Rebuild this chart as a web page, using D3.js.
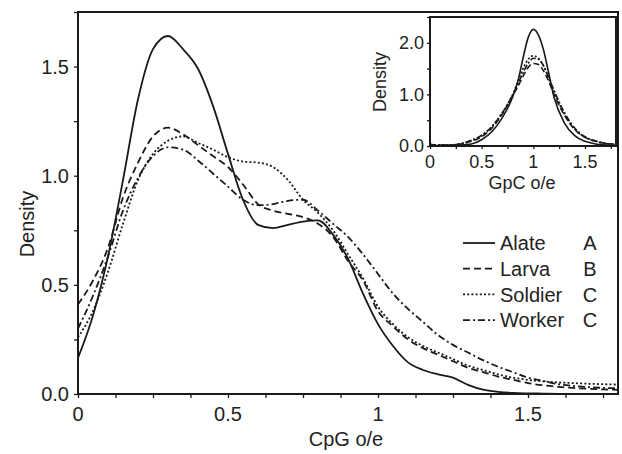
<!DOCTYPE html>
<html><head><meta charset="utf-8">
<script src="https://cdn.jsdelivr.net/npm/d3@7"></script>
<style>body{margin:0;background:#fff}svg{display:block}text{font-family:"Liberation Sans",Arial,sans-serif;fill:#222}</style>
</head><body><svg id="c" width="622" height="454"></svg>
<script>
const series = ["Alate", "Larva", "Soldier", "Worker"];
const groups = ["A", "B", "C", "C"];
const cpg = [0,0.05,0.1,0.15,0.2,0.25,0.3,0.35,0.4,0.45,0.5,0.55,0.6,0.65,0.7,0.75,0.8,0.85,0.9,0.95,1.0,1.05,1.1,1.15,1.2,1.25,1.3,1.35,1.4,1.45,1.5,1.55,1.6,1.65,1.7,1.75,1.8];
const alateCpG = [0.165,0.36,0.63,0.98,1.35,1.58,1.64,1.58,1.49,1.32,1.10,0.89,0.775,0.76,0.775,0.79,0.795,0.73,0.62,0.46,0.32,0.22,0.145,0.11,0.09,0.075,0.042,0.02,0.01,0.005,0.003,0.002,0.001,0.001,0,0,0];
const larvaCpG = [0.41,0.52,0.67,0.90,1.06,1.18,1.22,1.19,1.14,1.09,1.04,0.96,0.87,0.84,0.825,0.81,0.78,0.72,0.61,0.52,0.38,0.31,0.25,0.21,0.18,0.15,0.12,0.10,0.08,0.065,0.05,0.04,0.033,0.028,0.024,0.021,0.019];
const soldierCpG = [0.26,0.38,0.56,0.78,0.98,1.10,1.16,1.18,1.15,1.12,1.085,1.065,1.06,1.04,0.98,0.89,0.83,0.75,0.64,0.53,0.40,0.32,0.26,0.22,0.19,0.16,0.13,0.11,0.09,0.075,0.065,0.058,0.053,0.05,0.047,0.045,0.043];
const workerCpG = [0.30,0.45,0.63,0.84,0.99,1.09,1.13,1.12,1.07,1.01,0.95,0.89,0.865,0.87,0.885,0.89,0.84,0.78,0.72,0.64,0.55,0.46,0.39,0.33,0.27,0.225,0.19,0.155,0.125,0.10,0.075,0.06,0.045,0.037,0.032,0.028,0.026];
const gpc = [0,0.1,0.2,0.3,0.4,0.5,0.6,0.7,0.8,0.85,0.9,0.95,1.0,1.05,1.1,1.15,1.2,1.3,1.4,1.5,1.6,1.7,1.8];
const alateGpC = [0.02,0.01,0.01,0.02,0.04,0.12,0.28,0.55,0.95,1.25,1.7,2.1,2.26,2.15,1.85,1.4,0.95,0.45,0.2,0.09,0.04,0.02,0.01];
const larvaGpC = [0.03,0.02,0.02,0.04,0.09,0.18,0.35,0.62,0.98,1.15,1.35,1.52,1.6,1.58,1.45,1.25,1.0,0.6,0.32,0.17,0.09,0.05,0.03];
const soldierGpC = [0.03,0.02,0.02,0.04,0.10,0.20,0.38,0.65,1.0,1.25,1.5,1.68,1.75,1.7,1.55,1.3,1.05,0.62,0.33,0.17,0.09,0.05,0.03];
const workerGpC = [0.03,0.02,0.02,0.05,0.11,0.21,0.38,0.64,0.98,1.2,1.42,1.6,1.7,1.68,1.55,1.32,1.08,0.65,0.35,0.18,0.1,0.05,0.03];
const mainXTicks = [0, 0.5, 1, 1.5];
const mainXTickLabels = ["0", "0.5", "1", "1.5"];
const mainYTicks = [0, 0.5, 1.0, 1.5];
const mainYTickLabels = ["0.0", "0.5", "1.0", "1.5"];
const insetXTicks = [0, 0.5, 1, 1.5];
const insetXTickLabels = ["0", "0.5", "1", "1.5"];
const insetYTicks = [0, 1, 2];
const insetYTickLabels = ["0.0", "1.0", "2.0"];

const cpgValues = [alateCpG, larvaCpG, soldierCpG, workerCpG];
const gpcValues = [alateGpC, larvaGpC, soldierGpC, workerGpC];
const dashes = [null, "7,4", "2,2.2", "7,3,2,3"];
const dashesInset = [null, "6,3", "2,2", "6,2,2,2"];
const col = "#1a1a1a";

const svg = d3.select("#c");

function panel(g, x, y, xs, vals, dashArr, opt) {
  // ticks
  const xAxis = d3.axisBottom(x).tickValues(opt.xMinor).tickSize(opt.tick).tickFormat("");
  const yAxis = d3.axisLeft(y).tickValues(opt.yMinor).tickSize(opt.tick).tickFormat("");
  const gx = g.append("g").attr("transform", `translate(0,${y.range()[0]})`).call(xAxis);
  const gy = g.append("g").attr("transform", `translate(${x.range()[0]},0)`).call(yAxis);
  [gx, gy].forEach(a => { a.select(".domain").remove(); a.selectAll("line").attr("stroke", col).attr("stroke-width", 1.3); });
  // labels
  g.selectAll(".xl").data(opt.xTicks).join("text")
    .attr("x", d => x(d)).attr("y", y.range()[0] + opt.xLabOff)
    .attr("text-anchor", "middle").attr("font-size", opt.fs).text((d, i) => opt.xLabels[i]);
  g.selectAll(".yl").data(opt.yTicks).join("text")
    .attr("x", x.range()[0] - opt.yLabOff).attr("y", d => y(d)).attr("dy", "0.36em")
    .attr("text-anchor", "end").attr("font-size", opt.fs).text((d, i) => opt.yLabels[i]);
  // curves
  const line = d3.line().x(d => x(d[0])).y(d => y(d[1])).curve(d3.curveMonotoneX);
  vals.forEach((v, i) => {
    g.append("path").datum(xs.map((xv, j) => [xv, v[j]]))
      .attr("d", line).attr("fill", "none").attr("stroke", col)
      .attr("stroke-width", opt.lw).attr("stroke-dasharray", dashArr[i]);
  });
  // frame
  g.append("rect").attr("x", x.range()[0]).attr("y", y.range()[1])
    .attr("width", x.range()[1] - x.range()[0]).attr("height", y.range()[0] - y.range()[1])
    .attr("fill", "none").attr("stroke", col).attr("stroke-width", 2);
}

// main
const x = d3.scaleLinear().domain([0, 1.8]).range([78, 618]);
const y = d3.scaleLinear().domain([0, 1.75]).range([394, 12]);
const gm = svg.append("g");
panel(gm, x, y, cpg, cpgValues, dashes, {
  xMinor: d3.range(0, 1.8001, 0.125), yMinor: d3.range(0, 1.7501, 0.25), tick: 4,
  xTicks: mainXTicks, xLabels: mainXTickLabels, yTicks: mainYTicks, yLabels: mainYTickLabels,
  fs: 20, xLabOff: 27, yLabOff: 9, lw: 1.8
});
gm.append("text").attr("x", 346).attr("y", 446).attr("text-anchor", "middle").attr("font-size", 20).text("CpG o/e");
gm.append("text").attr("transform", "translate(34,224) rotate(-90)").attr("text-anchor", "middle").attr("font-size", 20).text("Density");

// legend
const lg = svg.append("g");
series.forEach((s, i) => {
  const yy = 243 + i * 25.7;
  lg.append("line").attr("x1", 463).attr("x2", 495).attr("y1", yy).attr("y2", yy)
    .attr("stroke", col).attr("stroke-width", 1.8).attr("stroke-dasharray", dashes[i]);
  lg.append("text").attr("x", 500).attr("y", yy).attr("dy", "0.36em").attr("font-size", 20).text(s);
  lg.append("text").attr("x", 590).attr("y", yy).attr("dy", "0.36em").attr("text-anchor", "middle").attr("font-size", 20).text(groups[i]);
});

// inset
const xi = d3.scaleLinear().domain([0, 1.8]).range([430, 616]);
const yi = d3.scaleLinear().domain([0, 2.5]).range([146, 17]);
const gi = svg.append("g");
gi.append("rect").attr("x", 430).attr("y", 17).attr("width", 186).attr("height", 129).attr("fill", "#fff");
panel(gi, xi, yi, gpc, gpcValues, dashesInset, {
  xMinor: d3.range(0, 1.8001, 0.25), yMinor: d3.range(0, 2.5001, 0.5), tick: 3,
  xTicks: insetXTicks, xLabels: insetXTickLabels, yTicks: insetYTicks, yLabels: insetYTickLabels,
  fs: 18, xLabOff: 22, yLabOff: 6, lw: 1.6
});
gi.append("text").attr("x", 522).attr("y", 189).attr("text-anchor", "middle").attr("font-size", 18).text("GpC o/e");
gi.append("text").attr("transform", "translate(386,82) rotate(-90)").attr("text-anchor", "middle").attr("font-size", 18).text("Density");
</script></body></html>
